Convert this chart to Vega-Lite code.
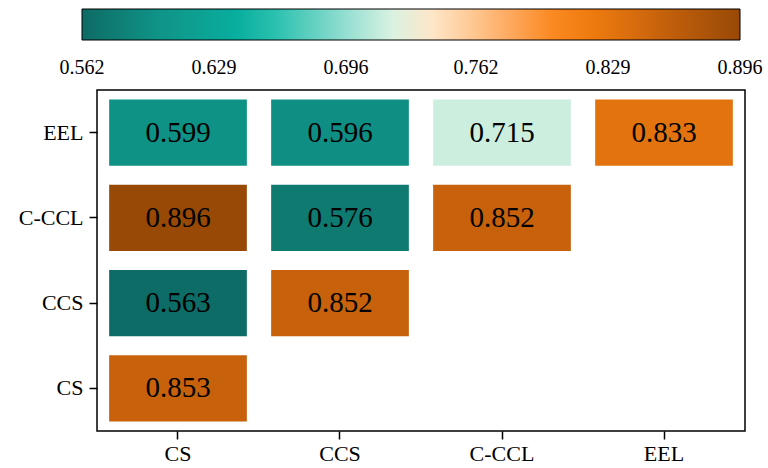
{
  "$schema": "https://vega.github.io/schema/vega-lite/v6.json",
  "width": 648,
  "height": 341,
  "autosize": "none",
  "padding": {"left": 97, "top": 90, "right": 23, "bottom": 37},
  "background": "white",
  "config": {
    "font": "Liberation Serif",
    "view": {"stroke": "black", "strokeWidth": 1.5},
    "axis": {
      "labelFontSize": 22,
      "labelColor": "black",
      "tickColor": "black",
      "tickSize": 8,
      "tickWidth": 1.5,
      "domain": false,
      "grid": false,
      "title": null,
      "labelFont": "Liberation Serif"
    },
    "legend": {
      "labelFontSize": 20,
      "labelFont": "Liberation Serif",
      "labelColor": "black"
    }
  },
  "data": {
    "values": [
      {"row": "EEL", "col": "CS", "value": 0.599},
      {"row": "EEL", "col": "CCS", "value": 0.596},
      {"row": "EEL", "col": "C-CCL", "value": 0.715},
      {"row": "EEL", "col": "EEL", "value": 0.833},
      {"row": "C-CCL", "col": "CS", "value": 0.896},
      {"row": "C-CCL", "col": "CCS", "value": 0.576},
      {"row": "C-CCL", "col": "C-CCL", "value": 0.852},
      {"row": "CCS", "col": "CS", "value": 0.563},
      {"row": "CCS", "col": "CCS", "value": 0.852},
      {"row": "CS", "col": "CS", "value": 0.853}
    ]
  },
  "encoding": {
    "x": {
      "field": "col",
      "type": "nominal",
      "sort": ["CS", "CCS", "C-CCL", "EEL"],
      "scale": {"paddingInner": 0.15, "paddingOuter": 0.075},
      "axis": {"labelAngle": 0, "labelPadding": 4}
    },
    "y": {
      "field": "row",
      "type": "nominal",
      "sort": ["EEL", "C-CCL", "CCS", "CS"],
      "scale": {"paddingInner": 0.22, "paddingOuter": 0.11},
      "axis": {"labelPadding": 6}
    }
  },
  "layer": [
    {
      "mark": {"type": "rect"},
      "encoding": {
        "color": {
          "field": "value",
          "type": "quantitative",
          "scale": {
            "type": "linear",
            "domain": [0.562, 0.896],
            "nice": false,
            "zero": false,
            "range": [
              "#0d6b64", "#0e776e", "#0f8378", "#0f9085", "#0f998c",
              "#0da092", "#0aa898", "#07b0a0", "#0ab9a8", "#3cc6b6",
              "#5ccfc0", "#7dd8ca", "#a1e2d5", "#c0ebdf", "#e5f4e4",
              "#fff0dc", "#fed9b0", "#fecb98", "#feba7c", "#fea75b",
              "#fc9435", "#fa8518", "#f27e0e", "#e9770f", "#dd700e",
              "#c9620b", "#c05e0b", "#b3580a", "#a55008", "#984906"
            ]
          },
          "legend": {
            "type": "gradient",
            "title": null,
            "orient": "none",
            "direction": "horizontal",
            "legendX": -15,
            "legendY": -81,
            "gradientLength": 658,
            "gradientThickness": 31,
            "gradientStrokeColor": "black",
            "gradientStrokeWidth": 1,
            "values": [0.562, 0.629, 0.696, 0.762, 0.829, 0.896],
            "format": ".3f",
            "labelFontSize": 20,
            "labelColor": "black",
            "labelAlign": "center",
            "labelOffset": 18,
            "labelOverlap": false,
            "padding": 0,
            "offset": 0,
            "encode": {
              "labels": {
                "update": {"align": {"value": "center"}}
              }
            }
          }
        }
      }
    },
    {
      "mark": {"type": "text", "fontSize": 29, "color": "black", "baseline": "middle", "font": "Liberation Serif"},
      "encoding": {
        "text": {"field": "value", "type": "quantitative", "format": ".3f"}
      }
    }
  ]
}
